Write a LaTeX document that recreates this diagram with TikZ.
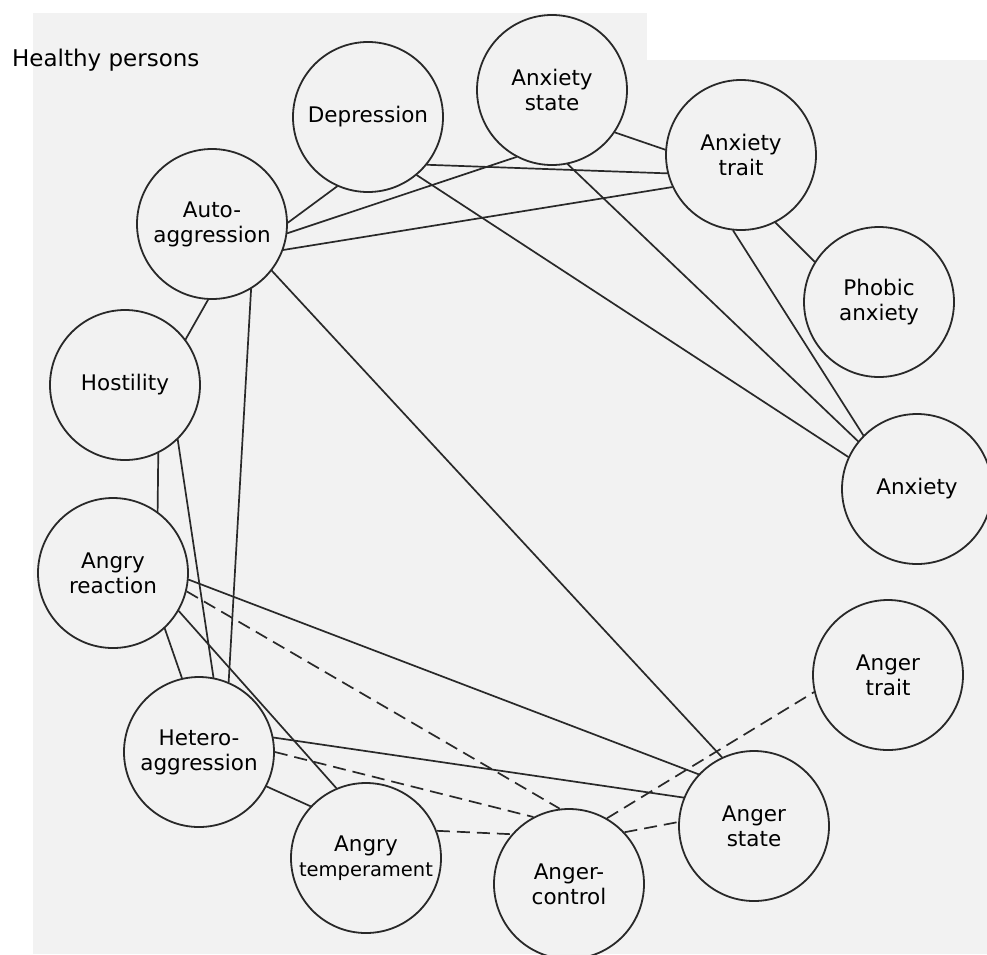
\documentclass[tikz,border=0pt]{standalone}
\usepackage{fontspec}
\setmainfont{DejaVu Sans}
\definecolor{paper}{gray}{0.95}
\definecolor{ink}{gray}{0.16}
\begin{document}
\begin{tikzpicture}[x=1pt,y=-1pt,line join=round,line cap=round,font=\fontsize{21.5}{25}\selectfont,
  var/.style={circle,draw=ink,line width=1.8pt,fill=paper,minimum size=150pt,inner sep=0pt,align=center},
  rel/.style={draw=ink,line width=1.7pt},
  neg/.style={rel,line cap=butt,dash pattern=on 13pt off 7pt}]
\useasboundingbox (0,0) rectangle (987,954);
\fill[paper] (33,13) rectangle (987,954);
\fill[white] (647,0) rectangle (987,60);
\node[anchor=base west,inner sep=0pt,font=\fontsize{23}{27}\selectfont] (title) at (12,66) {Healthy persons};
\node[var] (dep) at (368,117) {Depression};
\node[var] (anxs) at (552,90) {Anxiety\\state};
\node[var] (anxt) at (741,155) {Anxiety\\trait};
\node[var] (phob) at (879,302) {Phobic\\anxiety};
\node[var] (anx) at (917,489) {Anxiety};
\node[var] (auto) at (212,224) {Auto-\\aggression};
\node[var] (host) at (125,385) {Hostility};
\node[var] (angr) at (113,573) {Angry\\reaction};
\node[var] (hetero) at (199,752) {Hetero-\\aggression};
\node[var] (temp) at (366,858) {Angry\\\fontsize{19.5}{25}\selectfont temperament};
\node[var] (ctrl) at (569,884) {Anger-\\control};
\node[var] (astate) at (754,826) {Anger\\state};
\node[var] (atrait) at (888,675) {Anger\\trait};
\draw[rel] (dep.-114)--(auto.1) (dep.-39)--(anxt.194) (dep.-50)--(anx.155);
\draw[rel] (anxs.-118)--(auto.-7) (anxs.-34)--(anxt.176) (anxs.-78)--(anx.141);
\draw[rel] (anxt.-96)--(anx.135) (anxt.-63)--(phob.148);
\draw[rel] (auto.-20)--(anxt.205) (auto.-93)--(host.37) (auto.-59)--(hetero.67) (auto.-38)--(astate.115);
\draw[rel] (host.-64)--(angr.54) (host.-46)--(hetero.79);
\draw[rel] (angr.-47)--(hetero.103) (angr.-5)--(astate.137) (angr.-30)--(temp.113);
\draw[rel] (hetero.11)--(astate.158) (hetero.-27)--(temp.137);
\draw[neg] (angr.-14)--(ctrl.97) (hetero.0)--(ctrl.118) (temp.21)--(ctrl.139);
\draw[neg] (ctrl.60)--(atrait.193) (ctrl.43)--(astate.177);
\end{tikzpicture}
\end{document}
